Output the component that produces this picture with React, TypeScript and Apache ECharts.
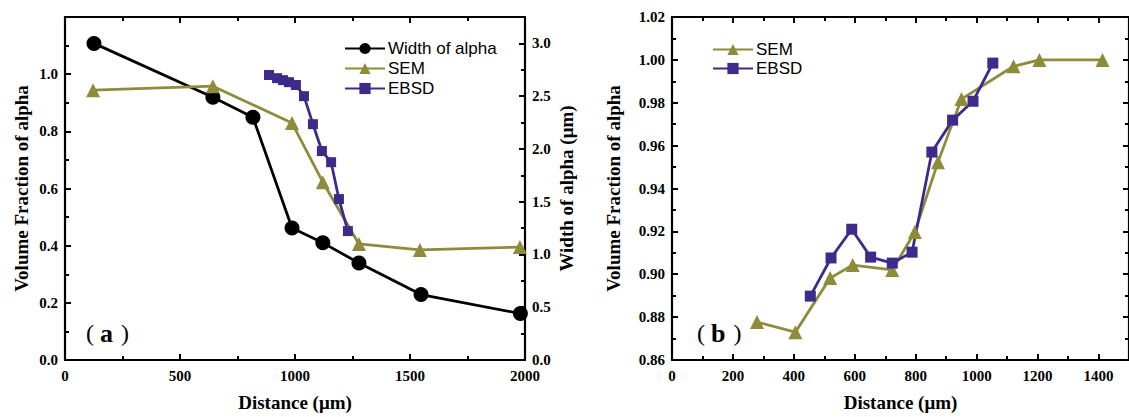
import React, { useEffect, useRef } from "react";
import * as echarts from "echarts";

// Panel (a)
const widthX = [126, 643, 817, 987, 1121, 1278, 1548, 1980];
const widthY = [3.0, 2.49, 2.3, 1.25, 1.11, 0.92, 0.62, 0.44];
const semAX = [122, 643, 987, 1121, 1278, 1543, 1978];
const semAY = [0.944, 0.958, 0.829, 0.622, 0.406, 0.385, 0.395];
const ebsdAX = [887, 922, 948, 974, 1004, 1039, 1078, 1117, 1157, 1191, 1230];
const ebsdAY = [0.997, 0.986, 0.979, 0.972, 0.962, 0.923, 0.825, 0.731, 0.692, 0.563, 0.451];

// Panel (b)
const semBX = [279, 405, 519, 593, 723, 797, 873, 950, 1121, 1206, 1413];
const semBY = [0.8777, 0.873, 0.8982, 0.9043, 0.902, 0.9197, 0.9523, 0.9817, 0.997, 1.0, 1.0];
const ebsdBX = [454, 522, 590, 652, 723, 788, 853, 921, 988, 1053];
const ebsdBY = [0.8898, 0.9076, 0.921, 0.908, 0.9052, 0.9103, 0.957, 0.9719, 0.9807, 0.9985];

const legendA = ["Width of alpha", "SEM", "EBSD"];
const legendB = ["SEM", "EBSD"];

const BLACK = "#000000";
const OLIVE = "#8e8c3a";
const PURPLE = "#3d2b8c";
const SERIF = '"Times New Roman", "Liberation Serif", serif';
const SANS = 'Arial, "Liberation Sans", sans-serif';

const zip = (xs: number[], ys: number[]) => xs.map((x, i) => [x, ys[i]]);

const labelBase = { color: BLACK, fontFamily: SERIF, fontWeight: "bold", fontSize: 15 };

const axisCommon = (extra: any) => ({
  type: "value",
  splitLine: { show: false },
  axisLine: { show: true, onZero: false, lineStyle: { color: BLACK, width: 2.2 } },
  axisTick: { show: true, inside: true, length: 6, lineStyle: { color: BLACK, width: 2 } },
  minorTick: { show: true, splitNumber: 2, length: 4, lineStyle: { color: BLACK, width: 2 } },
  axisLabel: { show: true, ...labelBase },
  nameTextStyle: { color: BLACK, fontFamily: SERIF, fontWeight: "bold", fontSize: 19 },
  ...extra,
});

const parenLabel = (letter: string) => ({
  text: `{p|(}{l|${letter}}{p|)}`,
  rich: {
    p: { fontFamily: SERIF, fontSize: 24, fontWeight: "normal", fill: BLACK, color: BLACK },
    l: { fontFamily: SERIF, fontSize: 26, fontWeight: "bold", fill: BLACK, color: BLACK, padding: [0, 8, 0, 6] },
  },
});

export default function App() {
  const ref = useRef<HTMLDivElement>(null);
  useEffect(() => {
    if (!ref.current) return;
    const chart = echarts.init(ref.current, undefined, { renderer: "svg" });
    const lineSeries = (name: string, xi: number, yi: number, data: number[][], color: string, symbol: string, size: number) => ({
      type: "line",
      name,
      xAxisIndex: xi,
      yAxisIndex: yi,
      data,
      symbol,
      symbolSize: size,
      showAllSymbol: true,
      lineStyle: { color, width: 2.8 },
      itemStyle: { color },
      z: 3,
    });
    chart.setOption({
      animation: false,
      backgroundColor: "#ffffff",
      grid: [
        { left: 65, top: 17, width: 460, height: 343 },
        { left: 672, top: 17, width: 463, height: 343 },
      ],
      legend: [
        {
          data: legendA,
          orient: "vertical",
          left: 339,
          top: 35,
          itemWidth: 40,
          itemHeight: 14,
          itemGap: 3,
          textStyle: { color: BLACK, fontFamily: SANS, fontSize: 17, padding: [0, 0, 0, -2] },
          selectedMode: false,
        },
        {
          data: legendB,
          orient: "vertical",
          left: 707,
          top: 36,
          itemWidth: 40,
          itemHeight: 14,
          itemGap: 2,
          textStyle: { color: BLACK, fontFamily: SANS, fontSize: 17, padding: [0, 0, 0, -2] },
          selectedMode: false,
        },
      ],
      xAxis: [
        axisCommon({
          gridIndex: 0, min: 0, max: 2000, interval: 500, position: "bottom",
          name: "Distance (μm)", nameLocation: "middle", nameGap: 33,
          axisLabel: { ...labelBase, margin: 8, formatter: (v: number) => String(v) },
        }),
        axisCommon({
          gridIndex: 0, min: 0, max: 2000, interval: 500, position: "top",
          axisLabel: { show: false },
        }),
        axisCommon({
          gridIndex: 1, min: 0, max: 1500, interval: 200, position: "bottom",
          name: "Distance (μm)", nameLocation: "middle", nameGap: 33,
          axisLabel: { ...labelBase, margin: 8, showMaxLabel: false, formatter: (v: number) => String(v) },
        }),
        axisCommon({
          gridIndex: 1, min: 0, max: 1500, interval: 200, position: "top",
          axisLabel: { show: false },
        }),
      ],
      yAxis: [
        axisCommon({
          gridIndex: 0, min: 0, max: 1.2, interval: 0.2, position: "left",
          name: "Volume Fraction of alpha", nameLocation: "middle", nameGap: 34, nameRotate: 90,
          axisLabel: { ...labelBase, margin: 7, showMaxLabel: false, formatter: (v: number) => v.toFixed(1) },
        }),
        axisCommon({
          gridIndex: 0, min: 0, max: 3.25, interval: 0.5, position: "right",
          name: "Width of alpha (μm)", nameLocation: "middle", nameGap: 32, nameRotate: 90,
          axisLabel: { ...labelBase, margin: 7, showMaxLabel: false, formatter: (v: number) => v.toFixed(1) },
        }),
        axisCommon({
          gridIndex: 1, min: 0.86, max: 1.02, interval: 0.02, position: "left",
          name: "Volume Fraction of alpha", nameLocation: "middle", nameGap: 49, nameRotate: 90,
          axisLabel: { ...labelBase, margin: 7, formatter: (v: number) => v.toFixed(2) },
        }),
        axisCommon({
          gridIndex: 1, min: 0.86, max: 1.02, interval: 0.02, position: "right",
          axisLabel: { show: false },
        }),
      ],
      series: [
        lineSeries("Width of alpha", 0, 1, zip(widthX, widthY), BLACK, "circle", 15),
        lineSeries("SEM", 0, 0, zip(semAX, semAY), OLIVE, "triangle", 14),
        lineSeries("EBSD", 0, 0, zip(ebsdAX, ebsdAY), PURPLE, "rect", 10),
        lineSeries("SEM", 2, 2, zip(semBX, semBY), OLIVE, "triangle", 14),
        lineSeries("EBSD", 2, 2, zip(ebsdBX, ebsdBY), PURPLE, "rect", 11),
      ],
      graphic: [
        { type: "text", left: 86, top: 320, style: parenLabel("a") },
        { type: "text", left: 697, top: 320, style: parenLabel("b") },
      ],
    });
    return () => chart.dispose();
  }, []);
  return (
    <div
      ref={ref}
      style={{ position: "absolute", left: 0, top: 0, width: 1129, height: 417, background: "#fff" }}
    />
  );
}
